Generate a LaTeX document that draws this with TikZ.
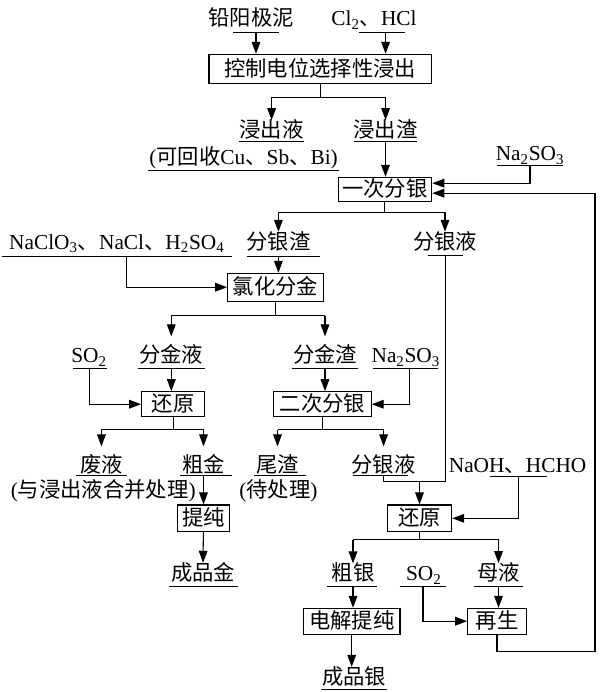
\documentclass[tikz,border=0pt]{standalone}
\usepackage{fontspec}
\setmainfont{Liberation Serif}
\newfontfamily\cjk{Noto Sans CJK SC}
\usetikzlibrary{arrows.meta, calc}
\newcommand\zh[1]{{\cjk #1}}
\newcommand\chs[1]{\textsubscript{#1}}
\tikzset{
  box/.style={draw, line width=0.8pt, inner sep=0pt, text height=13pt, text depth=1.5pt},
  txt/.style={inner sep=0pt, text height=13pt, text depth=1.5pt},
  ul/.style={inner sep=0pt, minimum height=0pt, minimum width=#1,
    append after command={(\tikzlastnode.west) edge[line width=0.6pt] (\tikzlastnode.east)}},
  arr/.style={-{Triangle[length=9pt,width=6.5pt]}, line width=0.8pt},
  ln/.style={line width=0.8pt}
}
\begin{document}
\begin{tikzpicture}[x=0.75pt, y=-0.75pt, font=\fontsize{16}{18}\selectfont]
\useasboundingbox (0,0) rectangle (600,692);
\node[txt] (anode) at (251,18) {\zh{铅阳极泥}};
\node[ul=33.75pt] (anode-u) at (256,32.7) {};
\node[txt] (gas) at (374,18) {Cl\chs{2}\zh{、}HCl};
\node[ul=34.5pt] (gas-u) at (382,32.7) {};
\node[box, minimum width=167pt, minimum height=21.75pt] (leach) at (320.3,68.8) {\zh{控制电位选择性浸出}};
\node[txt] (lliq) at (271.6,130) {\zh{浸出液}};
\node[ul=48.75pt] (lliq-u) at (271.5,141.7) {};
\node[txt] (recov) at (243.6,156.7) {(\zh{可回收}Cu\zh{、}Sb\zh{、}Bi)};
\node[ul=142.5pt] (recov-u) at (243.6,170) {};
\node[txt] (lres) at (385.6,130) {\zh{浸出渣}};
\node[ul=47.25pt] (lres-u) at (385.5,141.7) {};
\node[txt] (sulf1) at (530,153.3) {Na\chs{2}SO\chs{3}};
\node[ul=48.75pt] (sulf1-u) at (530,165.7) {};
\node[box, minimum width=70.3pt, minimum height=17.8pt] (sep1) at (384.9,189.2) {\zh{一次分银}};
\node[txt] (oxid) at (116.8,241.7) {NaClO\chs{3}\zh{、}NaCl\zh{、}H\chs{2}SO\chs{4}};
\node[ul=172.2pt] (oxid-u) at (116.7,256) {};
\node[txt] (agres) at (278.4,241.7) {\zh{分银渣}};
\node[ul=54.6pt] (agres-u) at (283.2,256) {};
\node[txt] (agliq1) at (445,241.7) {\zh{分银液}};
\node[ul=26.25pt] (agliq1-u) at (445.5,255) {};
\node[box, minimum width=71.8pt, minimum height=20.8pt] (chlor) at (275.5,287.2) {\zh{氯化分金}};
\node[txt] (so2a) at (89,355) {SO\chs{2}};
\node[ul=25.5pt] (so2a-u) at (89.9,368.3) {};
\node[txt] (auliq) at (171.3,355) {\zh{分金液}};
\node[ul=50.25pt] (auliq-u) at (171.3,368.3) {};
\node[txt] (aures) at (325,355) {\zh{分金渣}};
\node[ul=49.5pt] (aures-u) at (325,368.3) {};
\node[txt] (sulf2) at (405.8,355) {Na\chs{2}SO\chs{3}};
\node[ul=48.75pt] (sulf2-u) at (405.5,368.3) {};
\node[box, minimum width=47.3pt, minimum height=18.75pt] (red1) at (173.2,404.2) {\zh{还原}};
\node[box, minimum width=73.2pt, minimum height=18.75pt] (sep2) at (322.4,404.2) {\zh{二次分银}};
\node[txt] (waste) at (101.4,465) {\zh{废液}};
\node[ul=37.5pt] (waste-u) at (101.4,475) {};
\node[txt] (merge) at (103.3,490) {(\zh{与浸出液合并处理})};
\node[txt] (crudeau) at (203.5,465) {\zh{粗金}};
\node[ul=38.6pt] (crudeau-u) at (205.7,475) {};
\node[txt] (tail) at (277.5,465) {\zh{尾渣}};
\node[ul=38.6pt] (tail-u) at (280,475) {};
\node[txt] (pend) at (278.4,490) {(\zh{待处理})};
\node[txt] (agliq2) at (383.6,465) {\zh{分银液}};
\node[ul=41.25pt] (agliq2-u) at (380.5,475) {};
\node[txt] (naoh) at (517.6,465) {NaOH\zh{、}HCHO};
\node[ul=42.5pt] (naoh-u) at (518.3,476.7) {};
\node[box, minimum width=39.3pt, minimum height=20pt] (purify) at (203.4,518.3) {\zh{提纯}};
\node[box, minimum width=48.3pt, minimum height=20pt] (red2) at (419.5,518.3) {\zh{还原}};
\node[txt] (auprod) at (203,572.7) {\zh{成品金}};
\node[ul=51pt] (auprod-u) at (203.4,586) {};
\node[txt] (crudeag) at (353,573.3) {\zh{粗银}};
\node[ul=37.5pt] (crudeag-u) at (352,586) {};
\node[txt] (so2b) at (423.8,573) {SO\chs{2}};
\node[ul=34.5pt] (so2b-u) at (423,586) {};
\node[txt] (mother) at (498.5,573) {\zh{母液}};
\node[ul=36pt] (mother-u) at (498.5,586) {};
\node[box, minimum width=72.4pt, minimum height=19.3pt] (elec) at (351.7,621.2) {\zh{电解提纯}};
\node[box, minimum width=43.9pt, minimum height=19.3pt] (regen) at (497,621.2) {\zh{再生}};
\node[txt] (agprod) at (354,676.7) {\zh{成品银}};
\node[ul=48.75pt] (agprod-u) at (354,689.3) {};
\coordinate (fb) at (595,651.7);
\coordinate (mrg) at (419.5,481.7);
\draw[arr] (anode-u) -- (anode-u |- leach.north);
\draw[arr] (gas-u -| lres) -- (lres |- leach.north);
\draw[ln] (leach.south) -- ++(0,13.4) coordinate (f1);
\draw[ln] (f1 -| lliq) -- (f1 -| lres);
\draw[arr] (f1 -| lliq) -- (lliq.north);
\draw[arr] (f1 -| lres) -- (lres.north);
\draw[arr] (lres-u) -- (lres-u |- sep1.north);
\draw[arr] (sulf1-u) |- ($(sep1.east)+(0,-6)$);
\draw[arr] (regen.south) |- (fb) |- ($(sep1.east)+(0,4)$);
\draw[ln] (sep1.south) -- ++(0,10.7) coordinate (f2);
\draw[ln] (f2 -| agres) -- (f2 -| agliq1);
\draw[arr] (f2 -| agres) -- (agres.north);
\draw[arr] (f2 -| agliq1) -- (agliq1.north);
\draw[arr] ($(oxid-u)+(9.6,0)$) |- (chlor.west);
\draw[arr] (agres-u -| agres) -- (agres |- chlor.north);
\draw[ln] (chlor.south) -- ++(0,14) coordinate (f3);
\draw[ln] (f3 -| auliq) -- (f3 -| aures);
\draw[arr, shorten >=6.5pt] (f3 -| auliq) -- (auliq.north);
\draw[arr, shorten >=6.5pt] (f3 -| aures) -- (aures.north);
\draw[arr] (so2a-u) |- (red1.west);
\draw[arr] (auliq-u) -- (auliq-u |- red1.north);
\draw[arr] (aures-u) -- (aures-u |- sep2.north);
\draw[arr] ($(sulf2-u)+(4,0)$) |- (sep2.east);
\draw[ln] (red1.south) -- ++(0,12.6) coordinate (f4);
\draw[ln] (f4 -| waste) -- (f4 -| crudeau);
\draw[arr, shorten >=6.5pt] (f4 -| waste) -- (waste.north);
\draw[arr, shorten >=6.5pt] (f4 -| crudeau) -- (crudeau.north);
\draw[ln] (sep2.south) -- ++(0,12.6) coordinate (f5);
\draw[ln] (f5 -| tail) -- (f5 -| agliq2);
\draw[arr, shorten >=6.5pt] (f5 -| tail) -- (tail.north);
\draw[arr, shorten >=6.5pt] (f5 -| agliq2) -- (agliq2.north);
\draw[arr] (crudeau-u -| crudeau) -- (crudeau |- purify.north);
\draw[arr] (purify.south) -- (auprod.north);
\draw[ln] (agliq1-u) |- (mrg);
\draw[ln] (agliq2-u -| agliq2) |- (mrg);
\draw[arr] (mrg) -- (red2.north);
\draw[arr] (naoh-u) |- (red2.east);
\draw[ln] (red2.south) -- ++(0,7.6) coordinate (f6);
\draw[ln] (f6 -| crudeag) -- (f6 -| mother);
\draw[arr] (f6 -| crudeag) -- (crudeag.north);
\draw[arr] (f6 -| mother) -- (mother.north);
\draw[arr] (crudeag-u -| crudeag) -- (crudeag |- elec.north);
\draw[arr] (elec.south) -- (elec.south |- agprod.north);
\draw[arr] (so2b-u) |- (regen.west);
\draw[arr] (mother-u) -- (mother-u |- regen.north);
\end{tikzpicture}
\end{document}
